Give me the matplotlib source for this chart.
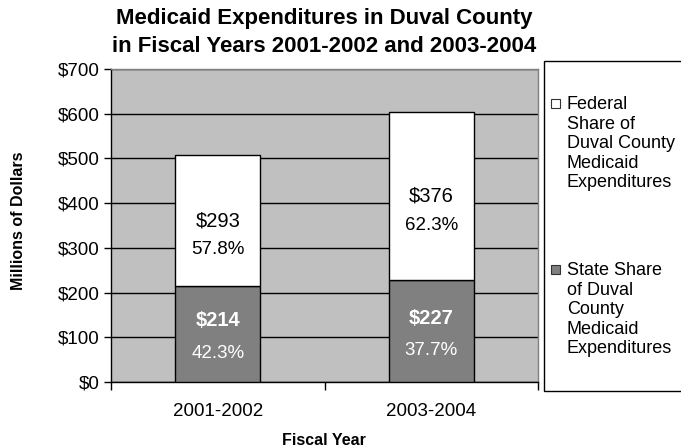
import matplotlib
matplotlib.use("Agg")
import matplotlib.pyplot as plt
from matplotlib.patches import Rectangle

# ---- data ----
fiscal_years = ["2001-2002", "2003-2004"]
state_share = [214, 227]        # millions of dollars
federal_share = [293, 376]      # millions of dollars
state_pct = ["42.3%", "37.7%"]
federal_pct = ["57.8%", "62.3%"]
y_ticks = [0, 100, 200, 300, 400, 500, 600, 700]
legend_labels = ["Federal\nShare of\nDuval County\nMedicaid\nExpenditures",
                 "State Share\nof Duval\nCounty\nMedicaid\nExpenditures"]

W, H = 681, 448
plt.rcParams["font.family"] = ["Liberation Sans", "DejaVu Sans"]

fig = plt.figure(figsize=(W / 100, H / 100), dpi=100)

def fx(px):
    return px / W

def fy(py):
    return 1 - py / H

left, right, top, bottom = 111, 538, 69, 382
ax = fig.add_axes([fx(left), fy(bottom), fx(right) - fx(left), fy(top) - fy(bottom)])
ax.set_facecolor("#C0C0C0")

x = list(range(len(fiscal_years)))
bar_w = 0.40
ax.bar(x, state_share, width=bar_w, color="#808080", edgecolor="black", linewidth=1, zorder=3)
ax.bar(x, federal_share, width=bar_w, bottom=state_share, color="white",
       edgecolor="black", linewidth=1, zorder=3)

# value labels inside the segments
for i in x:
    fmid = state_share[i] + federal_share[i] / 2
    ax.annotate(f"${federal_share[i]}", (i, fmid), xytext=(0, 0), textcoords="offset points",
                ha="center", va="center", fontsize=14.5, color="black", zorder=5)
    ax.annotate(federal_pct[i], (i, fmid), xytext=(0, -21), textcoords="offset points",
                ha="center", va="center", fontsize=13.5, color="black", zorder=5)
    smid = state_share[i] / 2
    ax.annotate(f"${state_share[i]}", (i, smid), xytext=(0, 9.5), textcoords="offset points",
                ha="center", va="center", fontsize=14.5, fontweight="bold", color="white", zorder=5)
    ax.annotate(state_pct[i], (i, smid), xytext=(0, -14), textcoords="offset points",
                ha="center", va="center", fontsize=13.5, color="white", zorder=5)

ax.set_ylim(0, 700)
ax.set_xlim(-0.5, len(fiscal_years) - 0.5)
ax.set_yticks(y_ticks)
ax.set_yticklabels([f"${v}" for v in y_ticks], fontsize=13.5)
ax.yaxis.grid(True, color="black", linewidth=1, zorder=1)
ax.set_axisbelow(True)
ax.tick_params(axis="y", direction="out", length=5, width=1, pad=3)

# category boundaries carry the tick marks, centres carry the labels
ax.set_xticks([i - 0.5 for i in range(len(fiscal_years) + 1)])
ax.set_xticklabels([])
ax.set_xticks(x, minor=True)
ax.set_xticklabels(fiscal_years, minor=True, fontsize=13.5)
ax.tick_params(axis="x", which="major", direction="out", length=6, width=1)
ax.tick_params(axis="x", which="minor", length=0, pad=15)

for s in ("left", "bottom"):
    ax.spines[s].set_color("black")
    ax.spines[s].set_linewidth(1)
for s in ("top", "right"):
    ax.spines[s].set_color("#808080")
    ax.spines[s].set_linewidth(1)

fig.text(fx(18.5), fy(221), "Millions of Dollars", rotation=90, ha="center", va="center",
         fontsize=11.5, fontweight="bold")
fig.text(fx(324), fy(440.5), "Fiscal Year", ha="center", va="center",
         fontsize=11.5, fontweight="bold")
fig.text(fx(324), fy(32.5), "Medicaid Expenditures in Duval County\nin Fiscal Years 2001-2002 and 2003-2004",
         ha="center", va="center", fontsize=16, fontweight="bold", linespacing=1.38)

# legend panel
fig.patches.append(Rectangle((fx(544), fy(391)), fx(700) - fx(544), fy(61) - fy(391),
                             transform=fig.transFigure, facecolor="white", edgecolor="black",
                             linewidth=1, clip_on=False))
for label, color, ycen in zip(legend_labels, ["white", "#808080"], [103, 269]):
    fig.patches.append(Rectangle((fx(551), fy(ycen + 4.5)), fx(9), 9 / H,
                                 transform=fig.transFigure, facecolor=color,
                                 edgecolor="#333333", linewidth=0.8))
    fig.text(fx(567), fy(ycen - 7), label, ha="left", va="top", fontsize=13,
             linespacing=1.2)

fig.savefig("out.png", dpi=100)
